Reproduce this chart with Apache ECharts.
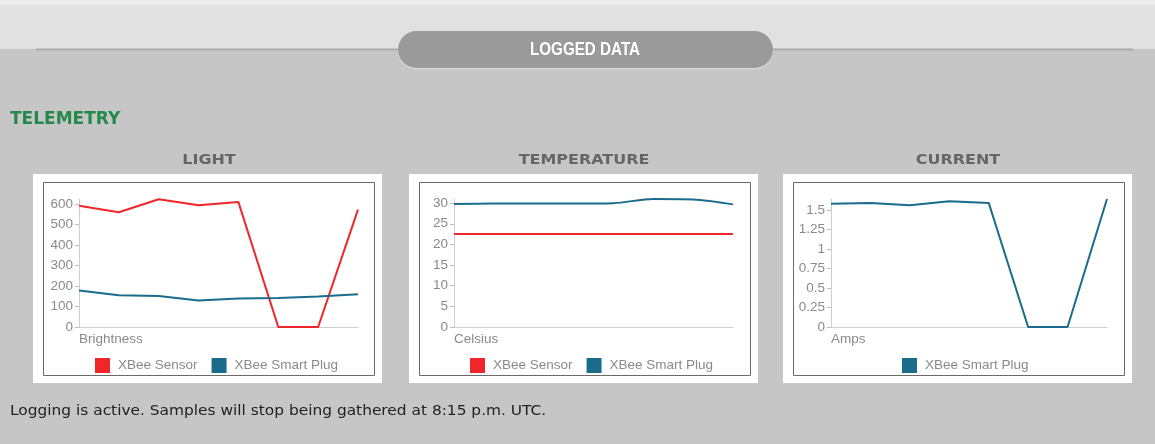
<!DOCTYPE html>
<html>
<head>
<meta charset="utf-8">
<title>Logged Data</title>
<script src="https://cdn.jsdelivr.net/npm/echarts@6/dist/echarts.min.js"></script>
<style>
  html, body { margin: 0; padding: 0; background: #c6c6c6; }
  #page { width: 1155px; height: 444px; }
</style>
</head>
<body>
<div id="page"></div>
<script>
// Sample slots (one per logged reading)
const samples = ['1', '2', '3', '4', '5', '6', '7', '8'];

// Light (brightness)
const lightSensor = [592, 560, 624, 594, 610, 0, 0, 573];
const lightPlug = [178, 155, 151, 129, 139, 141, 149, 160];
const lightTicks = [0, 100, 200, 300, 400, 500, 600];

// Temperature (celsius)
const tempSensor = [22.5, 22.5, 22.5, 22.5, 22.5, 22.5, 22.5, 22.5];
const tempPlug = [29.8, 29.9, 29.9, 29.9, 30.0, 31.0, 30.9, 29.7];
const tempTicks = [0, 5, 10, 15, 20, 25, 30];

// Current (amps)
const currentPlug = [1.58, 1.59, 1.56, 1.61, 1.59, 0, 0, 1.64];
const currentTicks = [0, 0.25, 0.5, 0.75, 1, 1.25, 1.5];

const RED = '#f0262b';
const TEAL = '#1b6b8c';
const chartFont = '"Liberation Sans", Arial, sans-serif';
const pageFont = '"DejaVu Sans", Verdana, sans-serif';

function xAxisFor(gridIndex) {
  return {
    type: 'category', gridIndex, data: samples, boundaryGap: false,
    axisLine: { lineStyle: { color: '#cfcfcf', width: 1 } },
    axisTick: { show: false }, axisLabel: { show: false }, splitLine: { show: false }
  };
}

function yAxisFor(gridIndex, max, ticks, name) {
  return {
    type: 'value', gridIndex, min: 0, max,
    name, nameLocation: 'start', nameGap: 5,
    nameTextStyle: { color: '#8a8a8a', fontFamily: chartFont, fontSize: 13.5, align: 'left', verticalAlign: 'top' },
    axisLine: { show: true, lineStyle: { color: '#cfcfcf', width: 1 } },
    axisTick: { show: true, length: 4, customValues: ticks, lineStyle: { color: '#bdbdbd' } },
    axisLabel: { customValues: ticks, margin: 6, color: '#8a8a8a', fontFamily: chartFont, fontSize: 13.5 },
    splitLine: { show: false }
  };
}

function lineSeries(name, color, data, idx, smooth) {
  return {
    type: 'line', name, data, xAxisIndex: idx, yAxisIndex: idx,
    showSymbol: false, symbol: 'none', smooth: smooth || false,
    lineStyle: { color, width: 2 }, itemStyle: { color },
    animation: false
  };
}

function legendFor(left, names) {
  return {
    left, top: 358, padding: 0, icon: 'rect', itemWidth: 15, itemHeight: 15, itemGap: 14,
    data: names, selectedMode: false,
    textStyle: { color: '#8a8a8a', fontFamily: chartFont, fontSize: 13.5, padding: [0, 0, 0, 3] }
  };
}

// Panel frames: white card with an inset dark border
function panel(x) {
  return [
    { type: 'rect', shape: { x, y: 174, width: 349, height: 209 }, style: { fill: '#ffffff' }, z: -5 },
    { type: 'rect', shape: { x: x + 10.5, y: 182.5, width: 331, height: 193 }, style: { fill: 'none', stroke: '#6a6a6a', lineWidth: 1 }, z: -4 }
  ];
}

function heading(text, cx) {
  return {
    type: 'text', x: cx, y: 160, scaleX: 1.14, z: 5,
    style: { text, fill: '#666666', font: 'bold 14px ' + pageFont, align: 'center', verticalAlign: 'middle' }
  };
}

const chart = echarts.init(document.getElementById('page'), null, { renderer: 'canvas' });

chart.setOption({
  backgroundColor: '#c6c6c6',
  animation: false,
  graphic: [
    // header band and divider
    { type: 'rect', shape: { x: 0, y: 0, width: 1155, height: 49 }, style: { fill: '#e1e1e1' }, z: -10 },
    { type: 'rect', shape: { x: 0, y: 0, width: 1155, height: 5 }, style: { fill: '#ececec' }, z: -10 },
    { type: 'line', shape: { x1: 36, y1: 49.5, x2: 1133, y2: 49.5 }, style: { stroke: '#a9a9a9', lineWidth: 2 }, z: -9 },
    { type: 'rect', shape: { x: 398, y: 31, width: 375, height: 37, r: 18.5 },
      style: { fill: '#9a9a9a', shadowBlur: 2, shadowColor: 'rgba(255,255,255,0.45)', shadowOffsetY: 1 }, z: -8 },
    { type: 'text', x: 585, y: 50, scaleX: 0.8, z: 5,
      style: { text: 'LOGGED DATA', fill: '#ffffff', font: 'bold 19px "Liberation Sans", Arial, sans-serif', align: 'center', verticalAlign: 'middle' } },
    { type: 'text', x: 10, y: 120, z: 5,
      style: { text: 'TELEMETRY', fill: '#238a4b', font: 'bold 17px ' + pageFont, verticalAlign: 'middle' } },
    heading('LIGHT', 209),
    heading('TEMPERATURE', 584),
    heading('CURRENT', 958),
    ...panel(33), ...panel(409), ...panel(783),
    { type: 'text', x: 10, y: 411, scaleX: 1.1, z: 5,
      style: { text: 'Logging is active. Samples will stop being gathered at 8:15 p.m. UTC.', fill: '#222222', font: '14px ' + pageFont, verticalAlign: 'middle' } }
  ],
  grid: [
    { left: 79, top: 199, width: 279, height: 128 },
    { left: 454, top: 199, width: 279, height: 128 },
    { left: 831, top: 199, width: 276, height: 128 }
  ],
  xAxis: [xAxisFor(0), xAxisFor(1), xAxisFor(2)],
  yAxis: [
    yAxisFor(0, 625, lightTicks, 'Brightness'),
    yAxisFor(1, 31, tempTicks, 'Celsius'),
    yAxisFor(2, 1.64, currentTicks, 'Amps')
  ],
  legend: [
    legendFor(95, ['XBee Sensor', 'XBee Smart Plug']),
    legendFor(470, ['XBee Sensor', 'XBee Smart Plug']),
    legendFor(902, ['XBee Smart Plug'])
  ],
  series: [
    lineSeries('XBee Sensor', RED, lightSensor, 0),
    lineSeries('XBee Smart Plug', TEAL, lightPlug, 0),
    lineSeries('XBee Sensor', RED, tempSensor, 1),
    lineSeries('XBee Smart Plug', TEAL, tempPlug, 1, 0.3),
    lineSeries('XBee Smart Plug', TEAL, currentPlug, 2)
  ]
});
</script>
</body>
</html>
